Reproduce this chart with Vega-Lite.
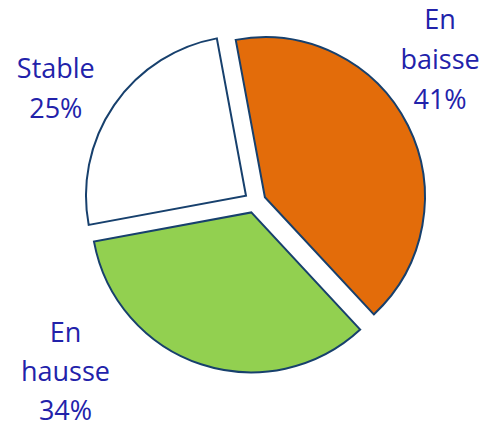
{
  "$schema": "https://vega.github.io/schema/vega-lite/v6.json",
  "width": 460,
  "height": 404,
  "padding": {"left": 25, "top": 0, "right": 0, "bottom": 24},
  "autosize": {"type": "none"},
  "background": "white",
  "view": {"stroke": null},
  "data": {"values": [
    {"cat": "En baisse", "pct": 41},
    {"cat": "En hausse", "pct": 34},
    {"cat": "Stable", "pct": 25}
  ]},
  "transform": [{"calculate": "datum.cat + ' ' + datum.pct + '%'", "as": "label"}],
  "encoding": {
    "theta": {"field": "pct", "type": "quantitative", "stack": true, "scale": {"range": [-0.1833, 6.0999]}},
    "order": {"field": "cat", "type": "nominal", "sort": "ascending"},
    "detail": {"field": "cat", "type": "nominal"}
  },
  "layer": [
    {
      "mark": {"type": "arc", "radius": 160, "stroke": "#17406D", "strokeWidth": 2, "xOffset": 9.9, "yOffset": -4.8},
      "encoding": {
        "color": {"field": "cat", "type": "nominal", "scale": {"domain": ["En baisse", "En hausse", "Stable"], "range": ["#E36C0A", "#92D050", "#FFFFFF"]}, "legend": null},
        "opacity": {"condition": {"test": "datum.cat === 'En baisse'", "value": 1}, "value": 0}
      }
    },
    {
      "mark": {"type": "arc", "radius": 160, "stroke": "#17406D", "strokeWidth": 2, "xOffset": -3.7, "yOffset": 10.4},
      "encoding": {
        "color": {"field": "cat", "type": "nominal", "scale": {"domain": ["En baisse", "En hausse", "Stable"], "range": ["#E36C0A", "#92D050", "#FFFFFF"]}, "legend": null},
        "opacity": {"condition": {"test": "datum.cat === 'En hausse'", "value": 1}, "value": 0}
      }
    },
    {
      "mark": {"type": "arc", "radius": 160, "stroke": "#17406D", "strokeWidth": 2, "xOffset": -9.0, "yOffset": -6.3},
      "encoding": {
        "color": {"field": "cat", "type": "nominal", "scale": {"domain": ["En baisse", "En hausse", "Stable"], "range": ["#E36C0A", "#92D050", "#FFFFFF"]}, "legend": null},
        "opacity": {"condition": {"test": "datum.cat === 'Stable'", "value": 1}, "value": 0}
      }
    },
    {
      "mark": {"type": "text", "radius": 215, "lineBreak": " ", "font": "Open Sans", "fontSize": 27, "lineHeight": 40, "fill": "#2222AA", "align": "center", "baseline": "middle", "dx": -7, "dy": -84},
      "encoding": {
        "text": {"field": "label"},
        "opacity": {"condition": {"test": "datum.cat === 'En baisse'", "value": 1}, "value": 0}
      }
    },
    {
      "mark": {"type": "text", "radius": 215, "lineBreak": " ", "font": "Open Sans", "fontSize": 27, "lineHeight": 39, "fill": "#2222AA", "align": "center", "baseline": "middle", "dx": -122, "dy": -72},
      "encoding": {
        "text": {"field": "label"},
        "opacity": {"condition": {"test": "datum.cat === 'En hausse'", "value": 1}, "value": 0}
      }
    },
    {
      "mark": {"type": "text", "radius": 215, "lineBreak": " ", "font": "Open Sans", "fontSize": 27, "lineHeight": 40, "fill": "#2222AA", "align": "center", "baseline": "middle", "dx": -22, "dy": -10},
      "encoding": {
        "text": {"field": "label"},
        "opacity": {"condition": {"test": "datum.cat === 'Stable'", "value": 1}, "value": 0}
      }
    }
  ]
}
